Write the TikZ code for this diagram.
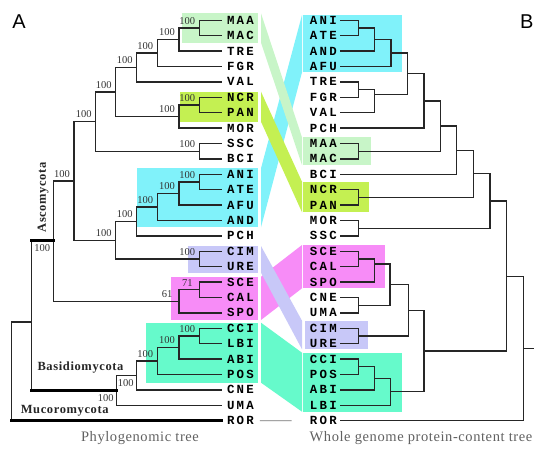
\documentclass[tikz,border=0pt]{standalone}
\usepackage{fontspec}
\setmainfont{Liberation Serif}
\newfontfamily\myleaffam[LetterSpace=18]{Liberation Mono}
\newfontfamily\mybsfam{Liberation Serif}
\newfontfamily\mycladefam[LetterSpace=5]{Liberation Serif}
\newfontfamily\mycapfam[LetterSpace=4]{Liberation Serif}
\newfontfamily\mypanelfam{Liberation Sans}
\definecolor{cG}{HTML}{C8F5C8}
\definecolor{cC}{HTML}{80F2FA}
\definecolor{cY}{HTML}{C4F052}
\definecolor{cL}{HTML}{C8C8F8}
\definecolor{cM}{HTML}{F78CF7}
\definecolor{cQ}{HTML}{66FACB}
\tikzset{
  br/.style={line width=1.3pt, black!85, line cap=rect},
  thk/.style={line width=3pt, black, line cap=rect},
  leafL/.style={anchor=west, inner xsep=6pt, inner ysep=0pt, outer sep=0pt,
    font={\myleaffam\bfseries\fontsize{12.4}{14}\selectfont}},
  leafR/.style={anchor=east, inner xsep=4.3pt, inner ysep=0pt, outer sep=0pt,
    font={\myleaffam\bfseries\fontsize{12.4}{14}\selectfont}},
  bsl/.style={inner sep=0pt, text=black!80, font={\mybsfam\fontsize{10.5}{12}\selectfont}},
  bsa/.style={bsl, anchor=south, xshift=-12pt, yshift=3.5pt},
  bsb/.style={bsl, anchor=north, xshift=-11pt, yshift=-4pt},
  clade/.style={inner sep=0pt, text=black!85, font={\mycladefam\bfseries\fontsize{12.5}{14}\selectfont}},
  capt/.style={inner sep=0pt, text=black!62, font={\mycapfam\fontsize{14.5}{16}\selectfont}},
  panel/.style={inner sep=0pt, font={\mypanelfam\fontsize{20}{22}\selectfont}}
}
\newcommand\elbow[3]{\draw[br] (#2) -| (#1 |- #3) -- (#3);}
\begin{document}
\begin{tikzpicture}[x=1pt,y=-1pt]
\useasboundingbox (0,0) rectangle (550,455);
% ---------- coloured boxes ----------
\fill[cG] (181.7,13.3) rectangle (258.3,42.7);
\fill[cY] (180,91.7) rectangle (258.3,121.7);
\fill[cC] (136.7,168.3) rectangle (258.3,227.3);
\fill[cL] (188,246) rectangle (258.3,272.7);
\fill[cM] (170.7,276.7) rectangle (258.3,320);
\fill[cQ] (146,322.7) rectangle (258.3,382.7);
\fill[cC] (303.3,15) rectangle (401.7,72.3);
\fill[cG] (303.3,137.3) rectangle (371,165);
\fill[cY] (303.3,181.7) rectangle (369,212.3);
\fill[cM] (303.3,245) rectangle (385,288.3);
\fill[cL] (305,320.7) rectangle (368.3,349.3);
\fill[cQ] (303.3,352.7) rectangle (401.7,411.7);
% ---------- bands ----------
\fill[cC] (261,168.3) -- (302,15) -- (302,72.3) -- (261,227.3) -- cycle;
\fill[cG] (261,13.3) -- (302,137.3) -- (302,165) -- (261,42.7) -- cycle;
\fill[cY] (261,91.7) -- (302,181.7) -- (302,212.3) -- (261,121.7) -- cycle;
\fill[cM] (261,276.7) -- (302,245) -- (302,288.3) -- (261,320) -- cycle;
\fill[cL] (261,246) -- (302,320.7) -- (302,349.3) -- (261,272.7) -- cycle;
\fill[cQ] (261,322.7) -- (302,352.7) -- (302,411.7) -- (261,382.7) -- cycle;
% ---------- leaves ----------
\foreach \n [count=\i from 0] in {MAA,MAC,TRE,FGR,VAL,NCR,PAN,MOR,SSC,BCI,ANI,ATE,AFU,AND,PCH,CIM,URE,SCE,CAL,SPO,CCI,LBI,ABI,POS,CNE,UMA,ROR}
  \node[leafL] (l\n) at (221,20.3+15.4*\i) {\n};
\foreach \n [count=\i from 0] in {ANI,ATE,AND,AFU,TRE,FGR,VAL,PCH,MAA,MAC,BCI,NCR,PAN,MOR,SSC,SCE,CAL,SPO,CNE,UMA,CIM,URE,CCI,POS,ABI,LBI,ROR}
  \node[leafR] (r\n) at (341,20.3+15.4*\i) {\n};
% ---------- left tree ----------
\coordinate (a1) at (199.3,28.0);
\coordinate (a2) at (179,39.6);
\coordinate (a3) at (157.3,53.0);
\coordinate (a4) at (136.7,67.5);
\coordinate (b1) at (199.3,105.0);
\coordinate (b2) at (179,116.5);
\coordinate (c1) at (115.7,92.0);
\coordinate (d1) at (199.3,151.2);
\coordinate (c2) at (95.7,121.6);
\coordinate (e1) at (199.3,182.0);
\coordinate (e2) at (179,193.5);
\coordinate (e3) at (157.3,207.0);
\coordinate (e4) at (136.7,221.5);
\coordinate (f1) at (199.3,259.0);
\coordinate (e5) at (115.7,240.2);
\coordinate (c3) at (74,180.9);
\coordinate (g1) at (199.3,289.8);
\coordinate (g2) at (179,301.3);
\coordinate (asc) at (53.3,240.5);
\coordinate (h1) at (199.3,336.0);
\coordinate (h2) at (179,347.6);
\coordinate (h3) at (157.3,361.0);
\coordinate (h4) at (136.7,375.5);
\coordinate (bas) at (116.7,390.0);
\coordinate (dk) at (31.7,322);
\coordinate (root) at (11.7,371);
\elbow{a1}{lMAA.west}{lMAC.west}
\elbow{a2}{a1}{lTRE.west}
\elbow{a3}{a2}{lFGR.west}
\elbow{a4}{a3}{lVAL.west}
\elbow{b1}{lNCR.west}{lPAN.west}
\elbow{b2}{b1}{lMOR.west}
\elbow{c1}{a4}{b2}
\elbow{d1}{lSSC.west}{lBCI.west}
\elbow{c2}{c1}{d1}
\elbow{e1}{lANI.west}{lATE.west}
\elbow{e2}{e1}{lAFU.west}
\elbow{e3}{e2}{lAND.west}
\elbow{e4}{e3}{lPCH.west}
\elbow{f1}{lCIM.west}{lURE.west}
\elbow{e5}{e4}{f1}
\elbow{c3}{c2}{e5}
\elbow{g1}{lSCE.west}{lCAL.west}
\elbow{g2}{g1}{lSPO.west}
\elbow{asc}{c3}{g2}
\elbow{h1}{lCCI.west}{lLBI.west}
\elbow{h2}{h1}{lABI.west}
\elbow{h3}{h2}{lPOS.west}
\elbow{h4}{h3}{lCNE.west}
\elbow{bas}{h4}{lUMA.west}
\elbow{dk}{asc}{bas}
\elbow{root}{dk}{lROR.west}
\draw[thk] (dk |- asc) -- (asc);
\draw[thk] (dk |- bas) -- (bas);
\draw[thk] (root |- lROR.west) -- (lROR.west);
% bootstrap labels
\foreach \c in {a1,a2,a3,a4,b1,b2,c1,d1,c2,e1,e2,e3,e4,f1,e5,c3,h1,h2,h3}
  \node[bsa] (bs\c) at (\c) {100};
\node[bsa] (bsg1) at (g1) {71};
\node[bsa] (bsg2) at (g2) {61};
\node[bsb] (bsasc) at (asc) {100};
\node[bsb] (bsh4) at (h4) {100};
\node[bsb] (bsbas) at (bas) {100};
% clade names
\node[clade, rotate=90] (asco) at (43,197.5) {Ascomycota};
\node[clade] (basi) at (80.5,367.7) {Basidiomycota};
\node[clade] (muco) at (64.7,411) {Mucoromycota};
% ---------- right tree ----------
\coordinate (rA1) at (358.3,28.0);
\coordinate (rA2) at (374.3,39.6);
\coordinate (rA3) at (391,53.0);
\coordinate (rT1) at (358.3,89.6);
\coordinate (rT2) at (374.3,94.5);
\coordinate (rX1) at (407.5,73.7);
\coordinate (rX2) at (424,100.9);
\coordinate (rM1) at (358.3,151.2);
\coordinate (rX3) at (440.7,126.0);
\coordinate (rX4) at (456.7,150.2);
\coordinate (rN1) at (358.3,197.4);
\coordinate (rX5) at (473.3,173.8);
\coordinate (rS1) at (358.3,228.2);
\coordinate (rX6) at (490,201.0);
\coordinate (rY1) at (358.3,259.0);
\coordinate (rY2) at (374.3,264.0);
\coordinate (rC1) at (358.3,305.2);
\coordinate (rY3) at (390,284.6);
\coordinate (rU1) at (358.3,336.0);
\coordinate (rY4) at (408.3,310.3);
\coordinate (rB1) at (358.3,366.8);
\coordinate (rB2) at (374.3,378.4);
\coordinate (rB3) at (390.7,391.8);
\coordinate (rY5) at (424,351.0);
\coordinate (rX7) at (506.7,276.3);
\coordinate (rX8) at (523.3,348.5);
\coordinate (rtip) at (533.3,348.5);
\elbow{rA1}{rANI.east}{rATE.east}
\elbow{rA2}{rA1}{rAND.east}
\elbow{rA3}{rA2}{rAFU.east}
\elbow{rT1}{rTRE.east}{rFGR.east}
\elbow{rT2}{rT1}{rVAL.east}
\elbow{rX1}{rA3}{rT2}
\elbow{rX2}{rX1}{rPCH.east}
\elbow{rM1}{rMAA.east}{rMAC.east}
\elbow{rX3}{rX2}{rM1}
\elbow{rX4}{rX3}{rBCI.east}
\elbow{rN1}{rNCR.east}{rPAN.east}
\elbow{rX5}{rX4}{rN1}
\elbow{rS1}{rMOR.east}{rSSC.east}
\elbow{rX6}{rX5}{rS1}
\elbow{rY1}{rSCE.east}{rCAL.east}
\elbow{rY2}{rY1}{rSPO.east}
\elbow{rC1}{rCNE.east}{rUMA.east}
\elbow{rY3}{rY2}{rC1}
\elbow{rU1}{rCIM.east}{rURE.east}
\elbow{rY4}{rY3}{rU1}
\elbow{rB1}{rCCI.east}{rPOS.east}
\elbow{rB2}{rB1}{rABI.east}
\elbow{rB3}{rB2}{rLBI.east}
\elbow{rY5}{rY4}{rB3}
\elbow{rX7}{rX6}{rY5}
\elbow{rX8}{rX7}{rROR.east}
\draw[br] (rX8) -- (rtip);
% ROR link
\coordinate (rorend) at (291.7,420.7);
\draw[black!55, line width=0.8pt] (lROR.east) -- (rorend);
% ---------- captions ----------
\node[capt] (cap1) at (140,438.5) {Phylogenomic tree};
\node[capt] (cap2) at (421,438.5) {Whole genome protein-content tree};
\node[panel] (pA) at (19,21.7) {A};
\node[panel] (pB) at (526.7,21.7) {B};
\end{tikzpicture}
\end{document}
